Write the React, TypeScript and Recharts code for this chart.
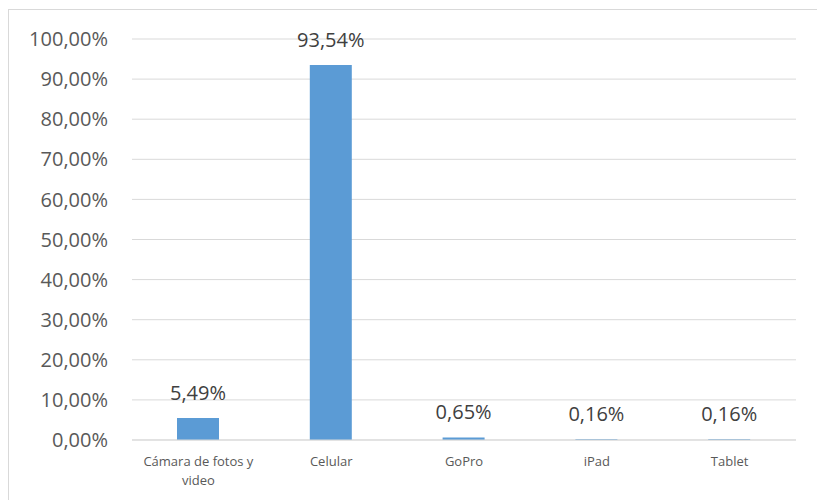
import { BarChart, Bar, XAxis, YAxis, CartesianGrid, LabelList } from "recharts";

const categories = ["Cámara de fotos y video", "Celular", "GoPro", "iPad", "Tablet"];
const shares = [5.49, 93.54, 0.65, 0.16, 0.16];
const yTicks = [0, 10, 20, 30, 40, 50, 60, 70, 80, 90, 100];

const data = categories.map((name, i) => ({ name, value: shares[i] }));

const FONT = "'Open Sans', sans-serif";
const pct = (v: number) => v.toFixed(2).replace(".", ",") + "%";

function WrappedTick(props: any) {
  const { x, y, payload } = props;
  const words = String(payload.value).split(" ");
  const lines: string[] = [];
  let cur = "";
  for (const w of words) {
    const next = cur ? cur + " " + w : w;
    if (next.length > 17 && cur) {
      lines.push(cur);
      cur = w;
    } else {
      cur = next;
    }
  }
  if (cur) lines.push(cur);
  return (
    <text x={x} y={y} textAnchor="middle" fill="#595959" fontSize={13} fontFamily={FONT}>
      {lines.map((l, i) => (
        <tspan key={i} x={x} dy={i === 0 ? 18 : 19}>
          {l}
        </tspan>
      ))}
    </text>
  );
}

export default function App() {
  return (
    <div
      style={{
        position: "fixed",
        left: 8,
        top: 9,
        width: 830,
        height: 500,
        borderTop: "1px solid #d9d9d9",
        borderLeft: "1px solid #d9d9d9",
        background: "#fff",
      }}
    >
      <BarChart
        width={808}
        height={490}
        data={data}
        margin={{ top: 29, right: 21, left: 0, bottom: 0 }}
        barCategoryGap={0}
      >
        <CartesianGrid vertical={false} stroke="#d9d9d9" />
        <XAxis
          dataKey="name"
          interval={0}
          height={60}
          axisLine={{ stroke: "#d9d9d9" }}
          tickLine={false}
          tick={<WrappedTick />}
        />
        <YAxis
          width={123}
          domain={[0, 100]}
          ticks={yTicks}
          tickFormatter={pct}
          axisLine={false}
          tickLine={false}
          tickMargin={18}
          tick={{ fontSize: 20, fill: "#595959", fontFamily: FONT }}
        />
        <Bar dataKey="value" fill="#5b9bd5" barSize={42} isAnimationActive={false}>
          <LabelList
            dataKey="value"
            position="top"
            offset={18}
            formatter={(v: any) => pct(Number(v))}
            style={{ fontSize: 20, fill: "#404040", fontFamily: FONT }}
          />
        </Bar>
      </BarChart>
    </div>
  );
}
